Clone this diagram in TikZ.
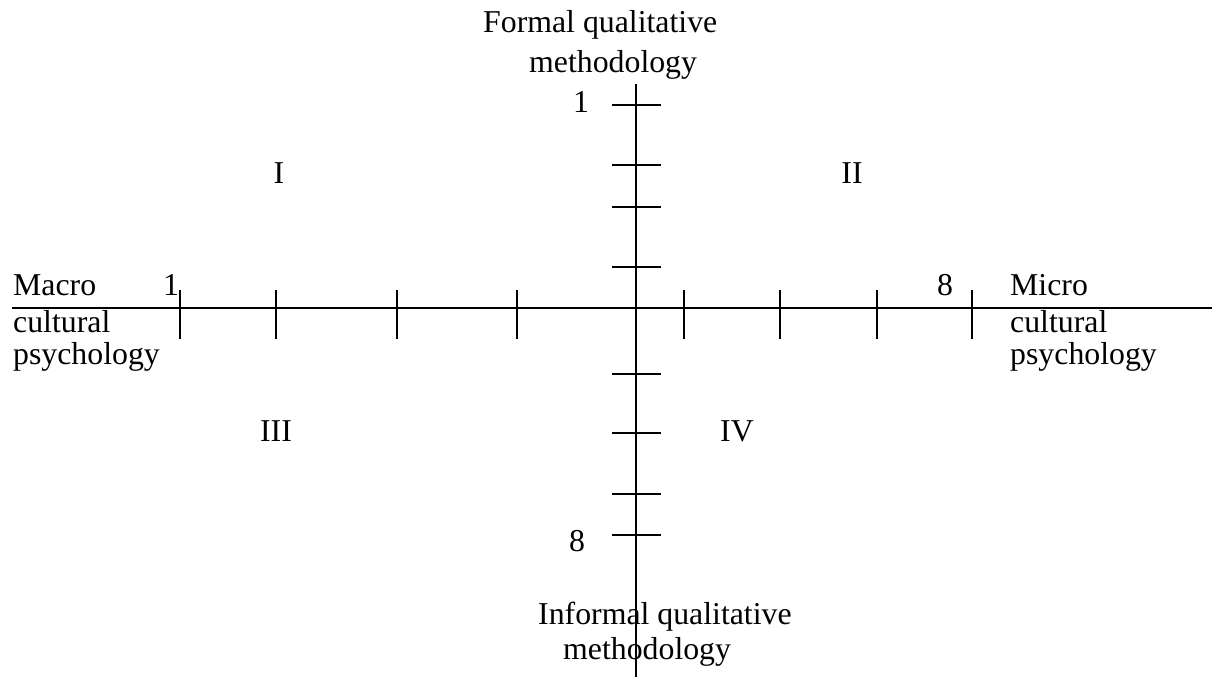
\documentclass[tikz,border=0pt]{standalone}
\usepackage{fontspec}
\setmainfont{Liberation Serif}
\begin{document}
\begin{tikzpicture}[x=1pt,y=-1pt,
  axisline/.style={line width=1.8pt,black},
  tickline/.style={line width=1.8pt,black},
  lbl/.style={inner sep=0pt,font=\fontsize{31.8}{36}\selectfont},
  lblw/.style={lbl,anchor=west}]
\useasboundingbox (0,0) rectangle (1212,677);
% axes
\coordinate (hL) at (12,308);
\coordinate (hR) at (1212,308);
\coordinate (vT) at (636,84);
\coordinate (vB) at (636,677);
\draw[axisline] (hL) -- (hR);
\draw[axisline] (vT) -- (vB);
% horizontal ticks
\foreach \x [count=\i] in {180,276,397,517,684,780,877,972}{
  \coordinate (ht\i a) at (\x,290);
  \coordinate (ht\i b) at (\x,339);
  \draw[tickline] (ht\i a) -- (ht\i b);
}
% vertical ticks
\foreach \y [count=\i] in {105,165,207,267,374,433,494,535}{
  \coordinate (vt\i a) at (612,\y);
  \coordinate (vt\i b) at (661,\y);
  \draw[tickline] (vt\i a) -- (vt\i b);
}
% numbers
\node[lbl] (h1) at (171,285) {1};
\node[lbl] (h8) at (945,285) {8};
\node[lbl] (v1) at (581,102) {1};
\node[lbl] (v8) at (577,541) {8};
% quadrants
\node[lbl] (q1) at (279,173) {I};
\node[lbl] (q2) at (852,173) {II};
\node[lbl] (q3) at (276,431) {III};
\node[lbl] (q4) at (737,431) {IV};
% axis labels
\node[lblw] (ma1) at (13,285) {Macro};
\node[lblw] (ma2) at (13,322) {cultural};
\node[lblw] (ma3) at (13,357) {psychology};
\node[lblw] (mi1) at (1010,285) {Micro};
\node[lblw] (mi2) at (1010,322) {cultural};
\node[lblw] (mi3) at (1010,357) {psychology};
\node[lblw] (fo1) at (483,25) {Formal qualitative};
\node[lblw] (fo2) at (529,65) {methodology};
\node[lblw] (in1) at (538,617) {Informal qualitative};
\node[lblw] (in2) at (563,652) {methodology};
\end{tikzpicture}
\end{document}
